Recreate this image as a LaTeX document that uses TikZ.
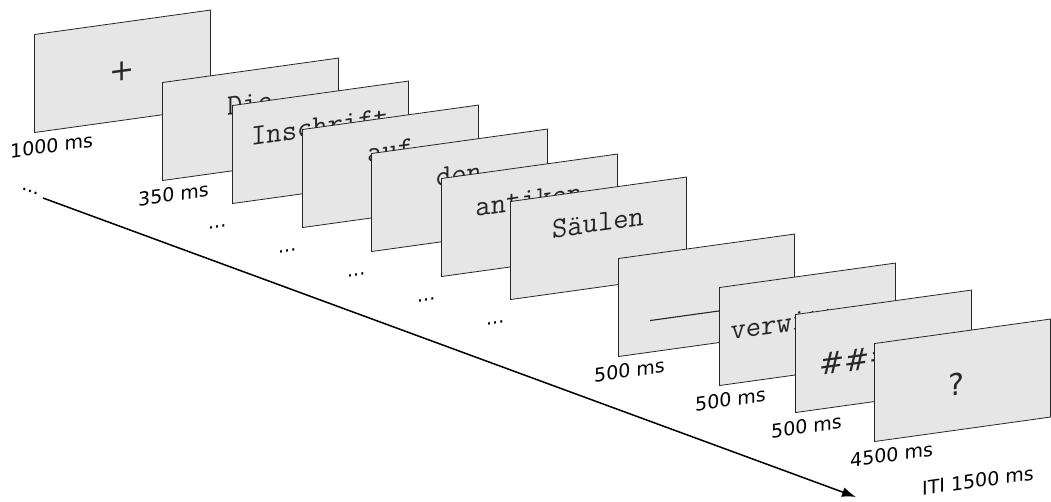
\documentclass[tikz,border=0pt]{standalone}
\usepackage{fontspec}
\setmainfont{DejaVu Sans}
\usetikzlibrary{arrows.meta}
\definecolor{panelgray}{HTML}{E6E6E6}
\definecolor{ink}{HTML}{262626}
\tikzset{
  panel/.style={draw=ink, fill=panelgray, line width=0.8bp, minimum width=176bp,
    minimum height=98bp, inner sep=0pt, anchor=south west},
  word/.style={font=\ttfamily\fontsize{29.7bp}{29.7bp}\selectfont, text=ink, anchor=base, inner sep=0pt},
  sym/.style={font=\fontsize{30bp}{30bp}\selectfont, text=ink, inner sep=0pt},
  lbl/.style={font=\fontsize{19bp}{19bp}\selectfont, text=black, anchor=base west, inner sep=0pt},
  slide/.style={shift={#1}, yslant=0.139, transform shape},
  timeline/.style={line width=1.5bp, -{Latex[length=14bp,width=10bp]}}
}
\begin{document}
\begin{tikzpicture}[x=1bp,y=1bp]
\useasboundingbox (0,0) rectangle (1051,502);

% time axis
\node[font=\fontsize{19bp}{19bp}\selectfont, rotate=-20, inner sep=0pt] (dots) at (30,311) {...};
\coordinate (tstart) at (43,304);
\coordinate (tend) at (856,5);
\draw[timeline] (tstart) -- (tend);

% fixation cross
\begin{scope}[slide={(34,369)}]
  \node[panel] (p1) at (0,0) {};
  \node[sym] (s1) at (88,49) {+};
  \node[lbl] (l1) at (-24,-22) {1000 ms};
\end{scope}

% words of the sentence
\begin{scope}[slide={(162,321)}]
  \node[panel] (p2) at (0,0) {};
  \node[word] (w2) at (88,56) {Die};
  \node[lbl] (l2) at (-24,-22) {350 ms};
\end{scope}

\begin{scope}[slide={(232,298)}]
  \node[panel] (p3) at (0,0) {};
  \node[word] (w3) at (88,56) {Inschrift};
  \node[lbl] (l3) at (-24,-22) {...};
\end{scope}

\begin{scope}[slide={(302,274)}]
  \node[panel] (p4) at (0,0) {};
  \node[word] (w4) at (88,56) {auf};
  \node[lbl] (l4) at (-24,-22) {...};
\end{scope}

\begin{scope}[slide={(371,250)}]
  \node[panel] (p5) at (0,0) {};
  \node[word] (w5) at (88,56) {den};
  \node[lbl] (l5) at (-24,-22) {...};
\end{scope}

\begin{scope}[slide={(441,225)}]
  \node[panel] (p6) at (0,0) {};
  \node[word] (w6) at (88,56) {antiken};
  \node[lbl] (l6) at (-24,-22) {...};
\end{scope}

\begin{scope}[slide={(510,202)}]
  \node[panel] (p7) at (0,0) {};
  \node[word] (w7) at (88,56) {Säulen};
  \node[lbl] (l7) at (-24,-22) {...};
\end{scope}

% blank
\begin{scope}[slide={(618,145)}]
  \node[panel] (p8) at (0,0) {};
  \coordinate (b8a) at (32,32);
  \coordinate (b8b) at (144,32);
  \draw[ink, line width=1.1bp] (b8a) -- (b8b);
  \node[lbl] (l8) at (-24,-22) {500 ms};
\end{scope}

% target word
\begin{scope}[slide={(719,116)}]
  \node[panel] (p9) at (0,0) {};
  \node[word] (w9) at (88,45) {verwittert};
  \node[lbl] (l9) at (-24,-22) {500 ms};
\end{scope}

% mask
\begin{scope}[slide={(795,89)}]
  \node[panel] (p10) at (0,0) {};
  \node[sym, anchor=base] (s10) at (87,34) {\#\#\#\#\#};
  \node[lbl] (l10) at (-24,-22) {500 ms};
\end{scope}

% question
\begin{scope}[slide={(874,60)}]
  \node[panel] (p11) at (0,0) {};
  \node[sym, anchor=base] (s11) at (82,35) {?};
  \node[lbl] (l11) at (-24,-22) {4500 ms};
  \node[lbl] (iti) at (48,-60) {ITI 1500 ms};
\end{scope}
\end{tikzpicture}
\end{document}
